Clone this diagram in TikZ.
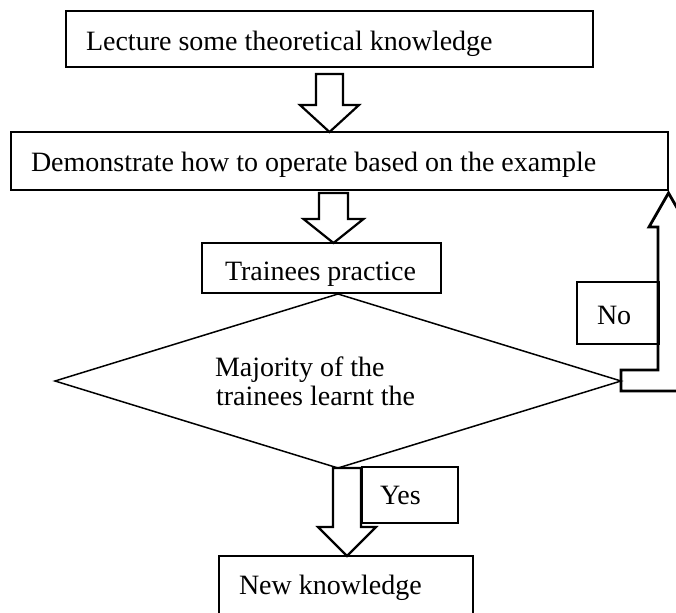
\documentclass[tikz,border=0pt]{standalone}
\usepackage{fontspec}
\setmainfont{Liberation Serif}
\usetikzlibrary{calc,shapes.geometric}

% Hollow block arrow pointing down: #1 shaft top, #2 tip,
% #3 shaft half width, #4 head half width, #5 head length (all in pt)
\newcommand\blockarrow[5]{%
  \draw[blockline] let \p1=#1, \p2=#2 in
    (\x1-#3pt,\y1) -- (\x1+#3pt,\y1) -- (\x1+#3pt,\y2+#5pt) -- (\x1+#4pt,\y2+#5pt)
    -- (\x1,\y2) -- (\x1-#4pt,\y2+#5pt) -- (\x1-#3pt,\y2+#5pt) -- cycle;}

\begin{document}
\begin{tikzpicture}[x=1pt,y=-1pt,
    every node/.style={font=\fontsize{28}{29}\selectfont, inner sep=0pt, outer sep=0pt},
    box/.style={draw, line width=1.5pt, anchor=north west},
    label/.style={anchor=base west},
    blockline/.style={line width=2.2pt, line join=miter},
    bentline/.style={line width=2.8pt, line join=miter}]
  \useasboundingbox (0,0) rectangle (676,612);
  \clip (0,0) rectangle (676,612);

  % process boxes
  \node[box, minimum width=527pt, minimum height=56pt] (lecture) at (66,11) {};
  \node[label] (lecture-t) at (86,51) {Lecture some theoretical knowledge};

  \node[box, minimum width=657pt, minimum height=58pt] (demo) at (11,132) {};
  \node[label] (demo-t) at (31,172) {Demonstrate how to operate based on the example};

  \node[box, minimum width=239pt, minimum height=50pt] (practice) at (202,243) {};
  \node[label] (practice-t) at (225,280) {Trainees practice};

  % decision
  \node[diamond, draw, line width=1.5pt, minimum width=566pt, minimum height=174pt] (decision) at (338,381) {};
  \node[label] (q1) at (215,376) {Majority of the};
  \node[label] (q2) at (216,405) {trainees learnt the};

  \node[box, minimum width=254pt, minimum height=70pt] (newk) at (219,556) {};
  \node[label] (newk-t) at (239,594) {New knowledge};

  % branch labels
  \node[box, minimum width=96pt, minimum height=56pt] (yes) at (362,467) {};
  \node[label] (yes-t) at (380,504) {Yes};
  \node[box, minimum width=82pt, minimum height=62pt] (no) at (577,282) {};
  \node[label] (no-t) at (597,324) {No};

  % hollow arrows between the steps
  \coordinate (a1top) at ($(lecture.south)+(0,7)$);
  \coordinate (a1tip) at (lecture.south |- demo.north);
  \blockarrow{(a1top)}{(a1tip)}{13.5}{29.5}{27}

  \coordinate (a2top) at ($(demo.south)+(-6,3)$);
  \coordinate (a2tip) at (a2top |- practice.north);
  \blockarrow{(a2top)}{(a2tip)}{14.5}{30}{24}

  \coordinate (a3top) at ($(decision.south)+(9,0)$);
  \coordinate (a3tip) at (a3top |- newk.north);
  \blockarrow{(a3top)}{(a3tip)}{14}{29}{29}

  % bent arrow back to the demonstration step
  \coordinate (e) at (decision.east);
  \coordinate (noaxis) at ($(e)+(47.5,0)$);
  \coordinate (notip) at ($(noaxis |- demo.south)+(0,3)$);
  \draw[bentline]
    ($(e)+(0,10)$) -- ($(e)+(0,-11)$) -- ($(e)+(37,-11)$) -- ($(e)+(37,-154)$)
    -- ($(e)+(28,-154)$) -- (notip) -- ($(e)+(67,-154)$)
    -- ($(e)+(58,-154)$) -- ($(e)+(58,10)$) -- cycle;
\end{tikzpicture}
\end{document}
